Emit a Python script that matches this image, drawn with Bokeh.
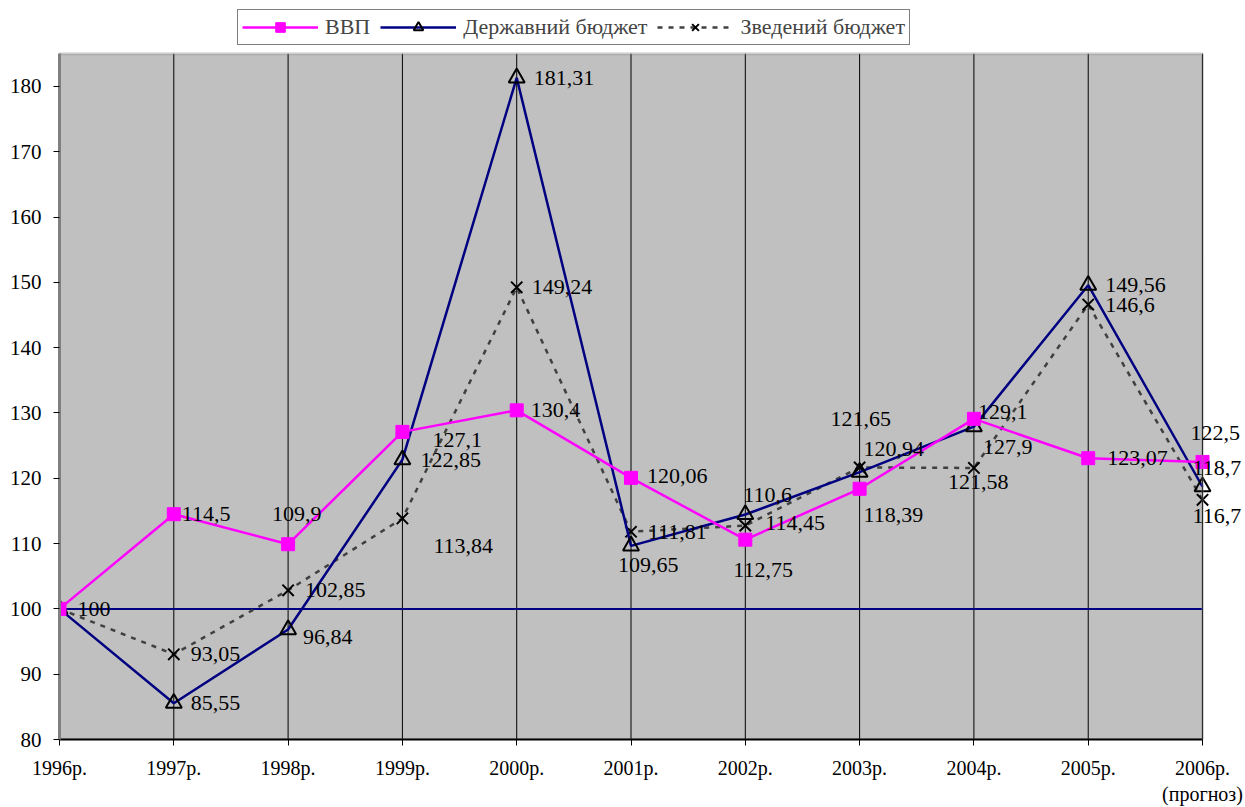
from bokeh.plotting import figure
from bokeh.models import (Range1d, FixedTicker, ColumnDataSource, LabelSet, Legend,
                          LegendItem, BoxAnnotation)
from bokeh.embed import file_html
from bokeh.resources import INLINE

# ---- data ----
years = ["1996р.", "1997р.", "1998р.", "1999р.", "2000р.", "2001р.",
         "2002р.", "2003р.", "2004р.", "2005р.", "2006р.\n(прогноз)"]
gdp = [100, 114.5, 109.9, 127.1, 130.4, 120.06, 110.6, 118.39, 129.1, 123.07, 122.5]
state_budget = [100, 85.55, 96.84, 122.85, 181.31, 109.65, 114.45, 120.94, 127.9, 149.56, 118.7]
consolidated_budget = [100, 93.05, 102.85, 113.84, 149.24, 111.81, 112.75, 121.65, 121.58, 146.6, 116.7]
base_level = 100
y_ticks = list(range(80, 190, 10))
y_bottom, y_top = 80, 185

# ---- label placement (screen px, dx right, dy down) ----
gdp_dx = [18, 8, -16, 30, 14, 16, -2, 4, 4, 19, -12]
gdp_dy = [0, 0, -30, 8, 0, -2, -45, 26, -7, 0, -29]
st_dx = [18, 17, 15, 18, 17, -13, 20, 4, 9, 17, -10]
st_dy = [0, 0, 7, 0, 0, 19, 8, -23, 20, 0, -19]
co_dx = [18, 17, 17, 31, 15, 17, -12, -29, -26, 17, -10]
co_dy = [0, 0, 0, 28, 0, 0, 44, -48, 14, 0, 16]

FONT = "Liberation Serif"
idx = list(range(len(years)))
n = len(idx)


def fmt(v):
    return str(v).replace(".", ",")


# frame covers the canvas above/right of the axes so labels & legend are not clipped;
# the grey plotting area is drawn as a box from 1996..2006 and 80..185
p = figure(width=1245, height=807, output_backend="svg", toolbar_location=None,
           x_range=Range1d(0, 10.376), y_range=Range1d(80, 193.15),
           min_border_left=59, min_border_right=0, min_border_top=0, min_border_bottom=67)
p.background_fill_color = "white"
p.border_fill_color = "white"
p.outline_line_color = None

p.add_layout(BoxAnnotation(left=idx[0], right=idx[-1], bottom=y_bottom, top=y_top,
                           fill_color="#C0C0C0", fill_alpha=1, line_color=None, level="image"))

# vertical grid lines limited to the grey area
p.grid.grid_line_color = None
p.segment(x0=idx, x1=idx, y0=[y_bottom] * n, y1=[y_top] * n, line_color="black", line_width=1)

p.add_layout(BoxAnnotation(left=idx[0], right=idx[-1], bottom=y_bottom, top=y_top,
                           fill_color=None, fill_alpha=0, line_color="#808080", line_width=3,
                           level="glyph"))

# axes
p.xaxis.ticker = FixedTicker(ticks=idx)
p.xaxis.major_label_overrides = {i: y for i, y in enumerate(years)}
p.xaxis.bounds = (idx[0], idx[-1])
p.xaxis.axis_line_color = "black"
p.xaxis.axis_line_width = 2
p.xaxis.major_tick_out = 6
p.xaxis.major_tick_in = 0
p.xaxis.minor_tick_line_color = None
p.xaxis.major_label_standoff = 11
p.xaxis.major_label_text_font = FONT
p.xaxis.major_label_text_font_size = "20px"
p.xaxis.major_label_text_color = "black"

p.yaxis.ticker = FixedTicker(ticks=y_ticks)
p.yaxis.bounds = (y_bottom, y_top)
p.yaxis.axis_line_color = "#808080"
p.yaxis.axis_line_width = 3
p.yaxis.major_tick_out = 6
p.yaxis.major_tick_in = 0
p.yaxis.major_tick_line_color = "black"
p.yaxis.minor_tick_line_color = None
p.yaxis.major_label_standoff = 12
p.yaxis.major_label_text_font = FONT
p.yaxis.major_label_text_font_size = "21px"
p.yaxis.major_label_text_color = "black"

# reference line at 100
p.line(x=idx, y=[base_level] * n, line_color="#000080", line_width=2)

# series
src = ColumnDataSource(dict(
    x=idx, gdp=gdp, st=state_budget, co=consolidated_budget,
))

co_line = p.line("x", "co", source=src, line_color="#404040", line_width=2.5, line_dash="5 6")
co_pts = p.scatter("x", "co", source=src, marker="x", size=16, line_color="black", line_width=2)

st_line = p.line("x", "st", source=src, line_color="#000080", line_width=2.5)
st_pts = p.scatter("x", "st", source=src, marker="triangle", size=16, line_color="black",
                   line_width=2, fill_color=None)

gdp_line = p.line("x", "gdp", source=src, line_color="#FF00FF", line_width=2.5)
gdp_pts = p.scatter("x", "gdp", source=src, marker="square", size=13, line_color="#FF00FF",
                    fill_color="#FF00FF")

# data labels (the shared starting value 100 is labelled once)
for k, (vals, dx, dy) in enumerate(((gdp, gdp_dx, gdp_dy), (state_budget, st_dx, st_dy),
                                    (consolidated_budget, co_dx, co_dy))):
    texts = [fmt(v) for v in vals]
    if k > 0:
        texts[0] = ""
    ls = ColumnDataSource(dict(x=idx, y=vals, t=texts, dx=dx, dy=[-d for d in dy]))
    p.add_layout(LabelSet(x="x", y="y", text="t", source=ls, x_offset="dx", y_offset="dy",
                          text_font=FONT, text_font_size="22px", text_color="black",
                          text_align="left", text_baseline="middle"))

legend = Legend(items=[
    LegendItem(label="ВВП", renderers=[gdp_line, gdp_pts]),
    LegendItem(label="Державний бюджет", renderers=[st_line, st_pts]),
    LegendItem(label="Зведений бюджет", renderers=[co_line, co_pts]),
], orientation="horizontal", location=(178, 694))
legend.label_text_font = FONT
legend.label_text_font_size = "22px"
legend.glyph_width = 76
legend.glyph_height = 24
legend.label_standoff = 7
legend.spacing = 10
legend.padding = 4
legend.margin = 0
legend.border_line_color = "black"
legend.border_line_width = 1
legend.background_fill_color = "white"
legend.background_fill_alpha = 1
p.add_layout(legend, "center")

open("out.html", "w").write(file_html(p, INLINE))
